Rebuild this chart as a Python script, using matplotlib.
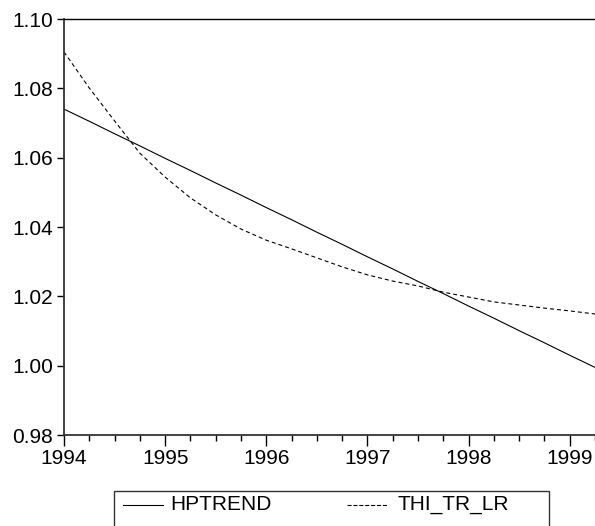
import matplotlib
matplotlib.use("Agg")
from matplotlib import pyplot as plt
from matplotlib.lines import Line2D
from matplotlib.patches import Rectangle
from matplotlib.ticker import FixedLocator, MultipleLocator

plt.rcParams["font.family"] = ["Liberation Sans", "DejaVu Sans"]

# quarterly observations 1994Q1 .. 1999Q2
years = [1994, 1995, 1996, 1997, 1998, 1999]
series_names = ["HPTREND", "THI_TR_LR"]
hptrend = [1.0740, 1.0705, 1.0669, 1.0634, 1.0598, 1.0563, 1.0527, 1.0492,
           1.0456, 1.0421, 1.0385, 1.0350, 1.0314, 1.0279, 1.0243, 1.0208,
           1.0172, 1.0137, 1.0101, 1.0066, 1.0030, 0.9995]
thi_tr_lr = [1.0905, 1.0801, 1.0706, 1.0613, 1.0544, 1.0484, 1.0435, 1.0394,
             1.0362, 1.0337, 1.0311, 1.0285, 1.0262, 1.0244, 1.0230, 1.0212,
             1.0198, 1.0184, 1.0175, 1.0166, 1.0158, 1.0149]
y_ticks = [0.98, 1.00, 1.02, 1.04, 1.06, 1.08, 1.10]

W, H = 595, 526
fig = plt.figure(figsize=(W / 100, H / 100), dpi=100)
ax = fig.add_axes([64 / W, 1 - 435 / H, (W - 64) / W, 416 / H])

quarters = list(range(len(hptrend)))
styles = [dict(linestyle="-"), dict(linestyle=(0, (3.6, 2.7)))]
lines = []
for vals, st in zip([hptrend, thi_tr_lr], styles):
    ln, = ax.plot(quarters, vals, color="black", linewidth=0.8, **st)
    lines.append(ln)

ax.set_xlim(0, len(quarters) - 1)
ax.set_ylim(y_ticks[0], y_ticks[-1])

ax.xaxis.set_major_locator(FixedLocator([4 * i for i in range(len(years))]))
ax.xaxis.set_minor_locator(MultipleLocator(1))
ax.set_xticklabels([str(y) for y in years])
ax.set_yticks(y_ticks)
ax.set_yticklabels(["%.2f" % v for v in y_ticks])

ax.tick_params(axis="both", labelsize=15, colors="black", direction="out")
ax.tick_params(axis="x", which="major", length=8, width=1, pad=2)
ax.tick_params(axis="x", which="minor", length=4.5, width=1)
ax.tick_params(axis="y", which="major", length=5, width=1, pad=3)

for side in ["left", "bottom"]:
    ax.spines[side].set_color("#333333")
    ax.spines[side].set_linewidth(1.3)
ax.spines["top"].set_color("black")
ax.spines["top"].set_linewidth(1.0)
ax.spines["right"].set_visible(False)

# legend box at the bottom, running off the lower edge
fig.add_artist(Rectangle((114 / W, -0.05), (549 - 114) / W, 1 - 491 / H + 0.05,
                         transform=fig.transFigure, fill=False,
                         edgecolor="#333333", linewidth=1.0))
leg_y = 1 - 505 / H
handle_x = [(123, 163, 170), (347, 388, 397)]
for ln, name, (x0, x1, tx) in zip(lines, series_names, handle_x):
    fig.add_artist(Line2D([x0 / W, x1 / W], [leg_y, leg_y], transform=fig.transFigure,
                          color="black", linewidth=0.8, linestyle=ln.get_linestyle()))
    fig.text(tx / W, leg_y, name, fontsize=15, va="center", ha="left")

fig.savefig("out.png", dpi=100)
